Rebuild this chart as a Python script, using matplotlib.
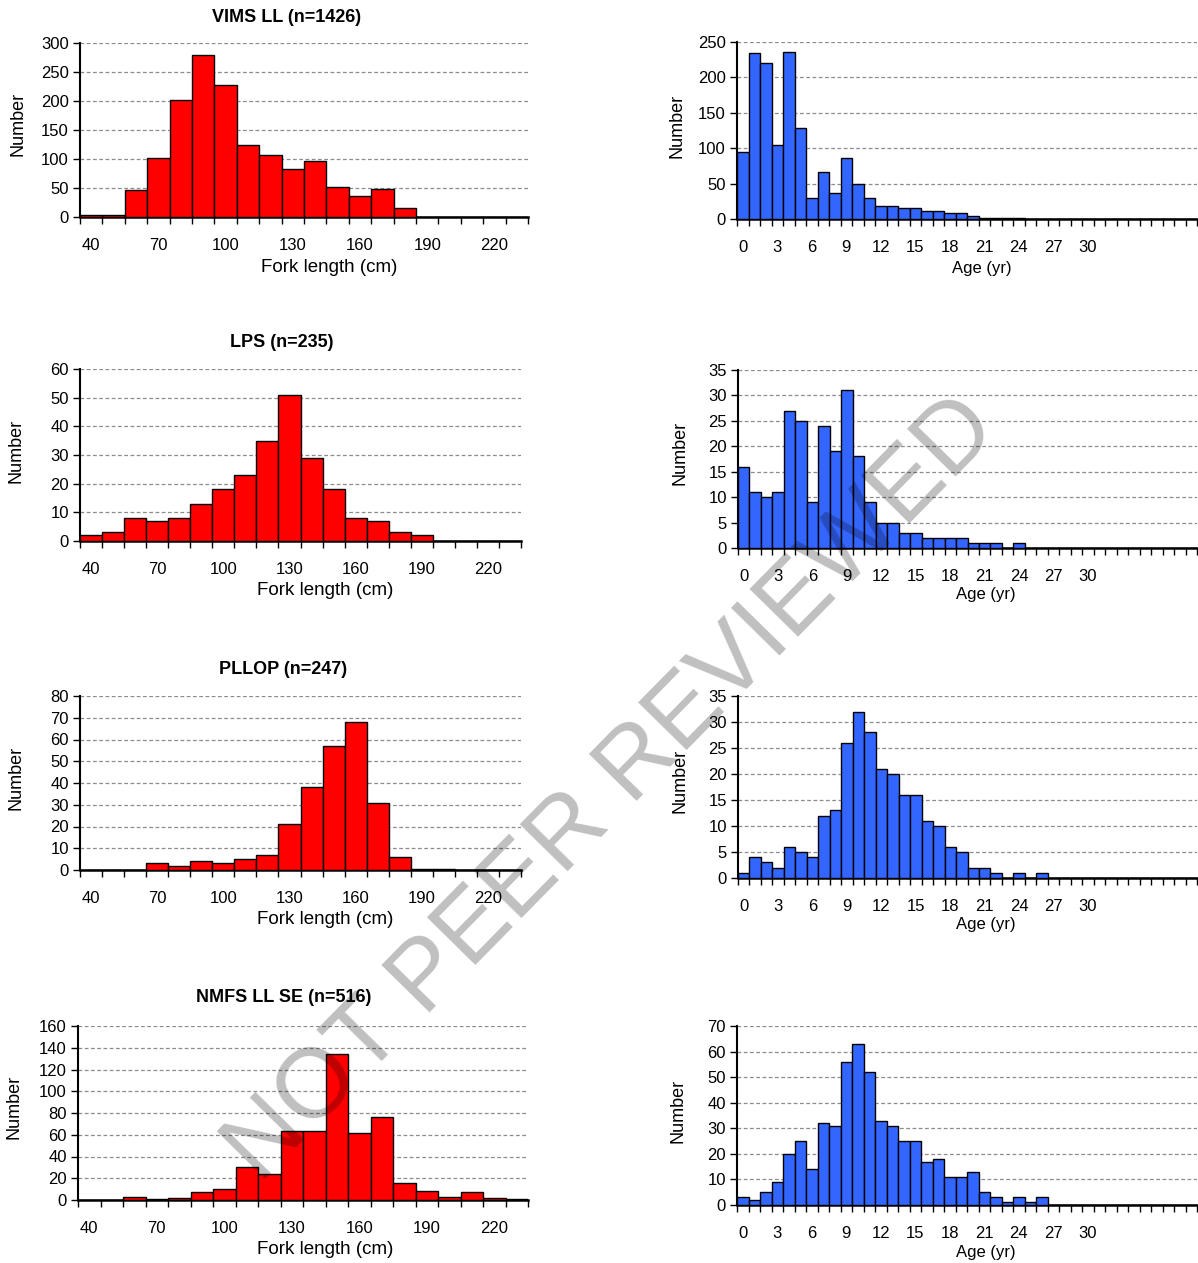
import matplotlib
matplotlib.use("Agg")
import matplotlib.pyplot as plt
import numpy as np

plt.rcParams["font.family"] = ["Liberation Sans", "DejaVu Sans"]

# fork length classes (cm) and age classes (yr)
length_bins = list(range(40, 240, 10))
age_bins = list(range(0, 40))

# counts per fork length class
vims_len = [4, 4, 47, 102, 202, 280, 227, 125, 107, 83, 96, 52, 36, 48, 16, 0, 0, 0, 0, 0]
lps_len = [2, 3, 8, 7, 8, 13, 18, 23, 35, 51, 29, 18, 8, 7, 3, 2, 0, 0, 0, 0]
pllop_len = [0, 0, 0, 3, 2, 4, 3, 5, 7, 21, 38, 57, 68, 31, 6, 0.5, 0.5, 0, 0, 0]
nmfs_len = [0, 0, 3, 1, 2, 7, 10, 30, 24, 63, 63, 134, 62, 76, 16, 8, 3, 7, 2, 1]

# counts per age class (0..39)
vims_age = [94, 234, 221, 105, 236, 128, 29, 67, 37, 86, 49, 29, 19, 19, 15, 15, 11, 11, 8, 8,
            4, 2, 2, 2, 2] + [0] * 15
lps_age = [16, 11, 10, 11, 27, 25, 9, 24, 19, 31, 18, 9, 5, 5, 3, 3, 2, 2, 2, 2,
           1, 1, 1, 0, 1] + [0] * 15
pllop_age = [1, 4, 3, 2, 6, 5, 4, 12, 13, 26, 32, 28, 21, 20, 16, 16, 11, 10, 6, 5,
             2, 2, 1, 0, 1, 0, 1] + [0] * 13
nmfs_age = [3, 2, 5, 9, 20, 25, 14, 32, 31, 56, 63, 52, 33, 31, 25, 25, 17, 18, 11, 11,
            13, 5, 3, 1, 3, 1, 3] + [0] * 13

titles = ["VIMS LL (n=1426)", "LPS (n=235)", "PLLOP (n=247)", "NMFS LL SE (n=516)"]

W, H = 1198, 1263
fig = plt.figure(figsize=(W / 100, H / 100), dpi=100)


def px_axes(x0, y0, x1, y1):
    return fig.add_axes([x0 / W, 1 - y1 / H, (x1 - x0) / W, (y1 - y0) / H])


def px_text(x, y, s, **kw):
    fig.text(x / W, 1 - y / H, s, ha="center", va="center", **kw)


def panel(ax, values, labels, n_lab, color, ymax, ystep):
    x = np.arange(len(values))
    ax.bar(x, values, width=1.0, color=color, edgecolor="black", linewidth=1.0, zorder=3)
    ax.set_xlim(-0.5, len(values) - 0.5)
    ax.set_ylim(0, ymax)
    ax.set_yticks(np.arange(0, ymax + 1, ystep))
    ax.yaxis.grid(True, linestyle=(0, (3, 2)), color="#8c8c8c", linewidth=0.9)
    ax.set_axisbelow(True)
    major = list(range(0, n_lab, 3))
    ax.set_xticks(major)
    ax.set_xticklabels([str(labels[i]) for i in major])
    ax.set_xticks(np.arange(-0.5, len(values), 1), minor=True)
    ax.tick_params(axis="x", which="major", length=0, pad=15, labelsize=12)
    ax.tick_params(axis="x", which="minor", length=5, width=1, direction="out")
    ax.tick_params(axis="y", length=5, width=1, labelsize=12, pad=3)
    for s in ["top", "right"]:
        ax.spines[s].set_visible(False)
    ax.spines["left"].set_linewidth(1.5)
    ax.spines["bottom"].set_linewidth(1.8)


# left column: fork length
left_specs = [
    (vims_len, (80, 43, 528, 217), 300, 50, (287, 17), (329, 267), (18, 124)),
    (lps_len, (80, 369, 521, 541), 60, 10, (282, 343), (325, 590), (16, 451)),
    (pllop_len, (80, 696, 521, 870), 80, 10, (283, 669), (325, 920), (16, 778)),
    (nmfs_len, (78, 1026, 528, 1200), 160, 20, (284, 998), (325, 1250), (14, 1107)),
]
for (vals, box, ymax, ystep, tpos, xlpos, ylpos), title in zip(left_specs, titles):
    ax = px_axes(*box)
    panel(ax, vals, length_bins, 20, "#ff0000", ymax, ystep)
    px_text(*tpos, title, fontsize=13, fontweight="bold")
    px_text(*xlpos, "Fork length (cm)", fontsize=13.5)
    px_text(*ylpos, "Number", fontsize=13, rotation=90)

# right column: age
right_specs = [
    (vims_age, (737, 42, 1197, 219), 250, 50, (982, 268), (677, 126)),
    (lps_age, (738, 370, 1197, 548), 35, 5, (986, 595), (680, 453)),
    (pllop_age, (738, 696, 1197, 878), 35, 5, (986, 925), (680, 781)),
    (nmfs_age, (737, 1026, 1197, 1205), 70, 10, (986, 1252), (678, 1111)),
]
for vals, box, ymax, ystep, xlpos, ylpos in right_specs:
    ax = px_axes(*box)
    panel(ax, vals, age_bins, 31, "#3366ff", ymax, ystep)
    px_text(*xlpos, "Age (yr)", fontsize=12)
    px_text(*ylpos, "Number", fontsize=13, rotation=90)

# watermark
fig.text(612 / W, 1 - 790 / H, "NOT PEER REVIEWED", fontsize=71, color="black",
         alpha=0.25, rotation=45.5, ha="center", va="center", zorder=20)

fig.savefig("out.png", dpi=100)
